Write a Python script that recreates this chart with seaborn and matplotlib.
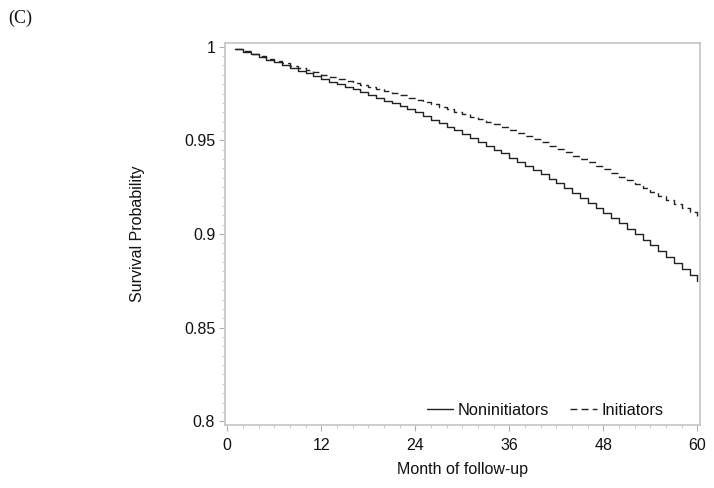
import numpy as np
import pandas as pd
import matplotlib
matplotlib.use("Agg")
import matplotlib.pyplot as plt
from matplotlib.ticker import MultipleLocator
import seaborn as sns

# ---------------------------
# data
# ---------------------------
months = list(range(1, 61))

noninitiators = [
    0.9988, 0.9974, 0.9960, 0.9945, 0.9931, 0.9916, 0.9902, 0.9887, 0.9872, 0.9858,
    0.9843, 0.9828, 0.9814, 0.9800, 0.9786, 0.9772, 0.9757, 0.9742, 0.9727, 0.9712,
    0.9697, 0.9681, 0.9665, 0.9649, 0.9630, 0.9611, 0.9592, 0.9573, 0.9553, 0.9533,
    0.9513, 0.9493, 0.9472, 0.9451, 0.9430, 0.9408, 0.9386, 0.9364, 0.9341, 0.9318,
    0.9294, 0.9270, 0.9245, 0.9220, 0.9194, 0.9168, 0.9141, 0.9114, 0.9086, 0.9058,
    0.9029, 0.9000, 0.8970, 0.8940, 0.8909, 0.8878, 0.8846, 0.8814, 0.8781, 0.8748,
]

initiators = [
    0.9988, 0.9975, 0.9962, 0.9949, 0.9936, 0.9924, 0.9911, 0.9899, 0.9887, 0.9875,
    0.9863, 0.9851, 0.9840, 0.9829, 0.9818, 0.9807, 0.9796, 0.9785, 0.9774, 0.9763,
    0.9752, 0.9740, 0.9728, 0.9716, 0.9704, 0.9692, 0.9679, 0.9666, 0.9653, 0.9640,
    0.9627, 0.9613, 0.9599, 0.9585, 0.9571, 0.9557, 0.9540, 0.9523, 0.9506, 0.9489,
    0.9472, 0.9455, 0.9437, 0.9419, 0.9401, 0.9383, 0.9364, 0.9345, 0.9326, 0.9306,
    0.9286, 0.9266, 0.9245, 0.9224, 0.9203, 0.9182, 0.9160, 0.9138, 0.9116, 0.9094,
]

group_names = ["Noninitiators", "Initiators"]
x_ticks = [0, 12, 24, 36, 48, 60]
y_ticks = [0.8, 0.85, 0.9, 0.95, 1.0]
y_tick_labels = ["0.8", "0.85", "0.9", "0.95", "1"]

df = pd.DataFrame({
    "Month": months * 2,
    "Survival": noninitiators + initiators,
    "Group": [group_names[0]] * len(months) + [group_names[1]] * len(months),
})

# ---------------------------
# plot
# ---------------------------
sns.set_theme(style="white")
plt.rcParams["font.family"] = ["Liberation Sans", "DejaVu Sans"]

fig = plt.figure(figsize=(7.14, 4.88), dpi=100)
ax = fig.add_axes([0.315, 0.129, 0.665, 0.783])

sns.lineplot(data=df, x="Month", y="Survival", hue="Group", style="Group",
             hue_order=group_names, style_order=group_names,
             palette=["#222222", "#222222"],
             dashes={"Noninitiators": "", "Initiators": (5, 3)},
             drawstyle="steps-post", linewidth=1.0, ax=ax)

ax.set_xlim(-0.3, 60.3)
ax.set_ylim(0.798, 1.002)
ax.set_xticks(x_ticks)
ax.set_yticks(y_ticks)
ax.set_yticklabels(y_tick_labels)
ax.xaxis.set_minor_locator(MultipleLocator(2))
ax.yaxis.set_minor_locator(MultipleLocator(0.005))

ax.tick_params(axis="x", which="major", pad=5)
ax.tick_params(axis="y", which="major", pad=3)
ax.tick_params(axis="both", which="major", direction="out", length=4, width=0.8,
               color="#b0b0b0", labelsize=11.5, labelcolor="#111111",
               bottom=True, left=True)
ax.tick_params(axis="both", which="minor", direction="out", length=2.5, width=0.6,
               color="#c0c0c0", bottom=True, left=True)

for s in ax.spines.values():
    s.set_color("#c4c4c4")
    s.set_linewidth(1.2)

ax.set_xlabel("Month of follow-up", fontsize=11.5, color="#111111", labelpad=7)
ax.set_ylabel("Survival Probability", fontsize=11.5, color="#111111", labelpad=28)

leg = ax.legend(loc="lower right", ncol=2, frameon=False, fontsize=11.8,
                handlelength=1.6, columnspacing=1.3, handletextpad=0.3,
                bbox_to_anchor=(0.955, -0.02))
for t in leg.get_texts():
    t.set_color("#111111")

fig.text(0.011, 0.962, "(C)", fontsize=13, family=["Liberation Serif", "DejaVu Serif"],
         va="center", ha="left", color="#111111")

fig.savefig("out.png", dpi=100)
